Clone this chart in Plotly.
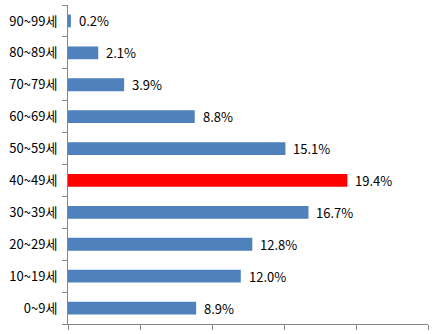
import plotly.graph_objects as go

# Age groups (bottom to top) and their share in percent
age_groups = ["0~9세", "10~19세", "20~29세", "30~39세", "40~49세",
              "50~59세", "60~69세", "70~79세", "80~89세", "90~99세"]
shares = [8.9, 12.0, 12.8, 16.7, 19.4, 15.1, 8.8, 3.9, 2.1, 0.2]
highlight = "40~49세"

blue = "#4F81BD"
red = "#FF0000"
axis_grey = "#868686"

colors = [red if g == highlight else blue for g in age_groups]

fig = go.Figure(
    go.Bar(
        x=shares,
        y=age_groups,
        orientation="h",
        marker=dict(color=colors, line=dict(width=0)),
        hoverinfo="skip",
    )
)

# Percentage labels to the right of each bar
for g, v in zip(age_groups, shares):
    fig.add_annotation(
        x=v, y=g, text=f"{v:.1f}%",
        xanchor="left", yanchor="middle", xshift=6,
        showarrow=False,
        font=dict(family="Noto Sans CJK KR, Noto Sans, sans-serif", size=13, color="#000000"),
    )

fig.update_layout(
    width=447, height=334,
    margin=dict(l=68, r=19, t=5, b=7),
    paper_bgcolor="white",
    plot_bgcolor="white",
    bargap=0.6,
    showlegend=False,
    font=dict(family="Noto Sans CJK KR, Noto Sans, sans-serif", size=13, color="#000000"),
)

fig.update_xaxes(
    range=[0, 25],
    tickmode="array", tickvals=[0, 5, 10, 15, 20, 25],
    showticklabels=False,
    ticks="outside", ticklen=5, tickwidth=1, tickcolor=axis_grey,
    showline=True, linecolor=axis_grey, linewidth=1,
    showgrid=False, zeroline=False,
)

fig.update_yaxes(
    type="category",
    categoryorder="array", categoryarray=age_groups,
    tickson="boundaries",
    ticks="outside", ticklen=5, tickwidth=1, tickcolor=axis_grey,
    ticklabelstandoff=7,
    showline=True, linecolor=axis_grey, linewidth=1,
    showgrid=False, zeroline=False,
    tickfont=dict(size=13, color="#000000"),
)

fig.write_html("out.html")
